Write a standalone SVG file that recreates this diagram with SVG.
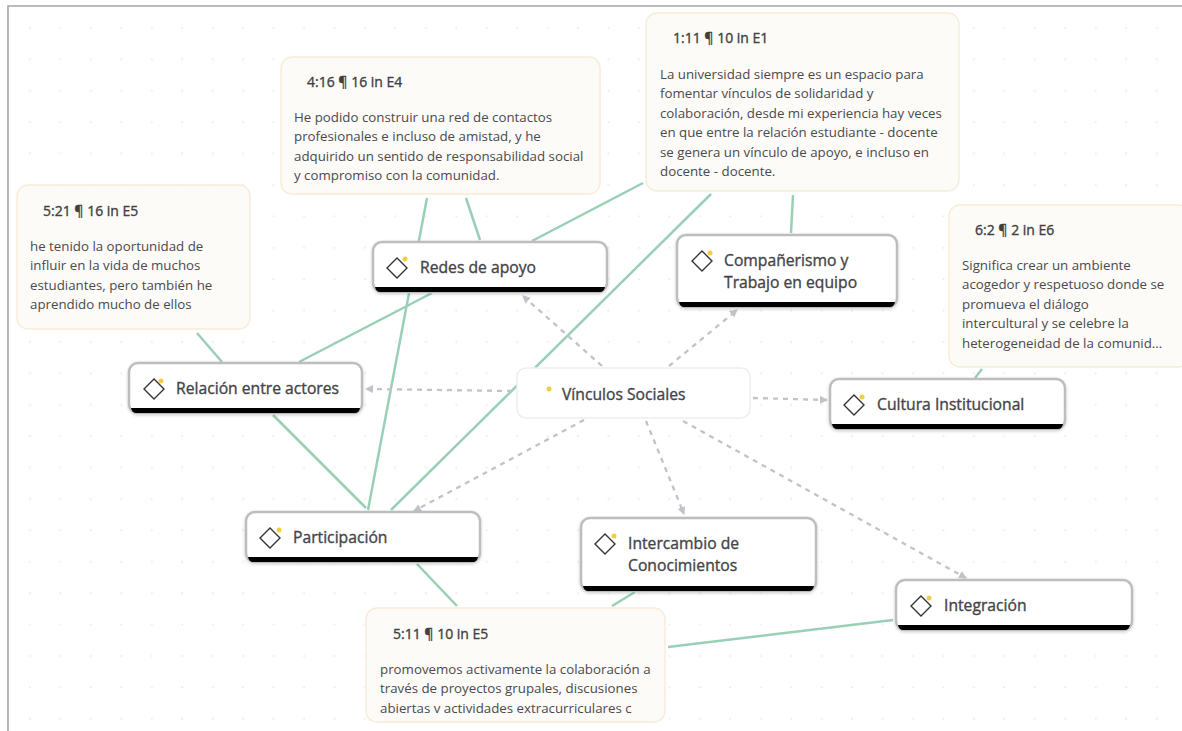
<svg xmlns="http://www.w3.org/2000/svg" width="1182" height="731" viewBox="0 0 1182 731">
<style>
text{font-family:"Open Sans","Noto Sans","Liberation Sans",sans-serif}
.g{stroke:#99d0b5;stroke-width:2.5;fill:none}
.d{stroke:#c2c2ca;stroke-width:2.3;stroke-dasharray:5 5;fill:none;marker-end:url(#a)}
.n{fill:#fff;stroke:#bdbdbd;stroke-width:2.5}
.bar{fill:#000}
.dia{fill:#fff;stroke:#333;stroke-width:1.4}
.y{fill:#f7cc45}
.t{font-size:15.7px;fill:#444448;stroke:#444448;stroke-width:.35}
.q{fill:#fdfbf8;stroke:#f8ecd9;stroke-width:1.4}
.h{font-size:14px;fill:#3f3f43;stroke:#3f3f43;stroke-width:.35}
.b{font-size:13.3px;fill:#4a4a4e}
</style>
<defs>
<pattern id="dots" x="15" y="13" width="30.45" height="31.4" patternUnits="userSpaceOnUse"><circle cx="15" cy="15" r="1.1" fill="#ebebeb"/></pattern>
<marker id="a" markerWidth="10" markerHeight="10" refX="7" refY="4" orient="auto" markerUnits="userSpaceOnUse"><path d="M0 0L8 4L0 8Z" fill="#c2c2ca"/></marker>
<filter id="s" x="-5%" y="-10%" width="110%" height="125%"><feDropShadow dx="0" dy="1" stdDeviation="1.5" flood-color="#000" flood-opacity="0.2"/></filter>
</defs>
<rect width="1182" height="731" fill="#fff"/>
<rect x="9" y="7" width="1173" height="724" fill="url(#dots)"/>
<path d="M1182 6H8V731" fill="none" stroke="#a9a5a5" stroke-width="1.6"/>
<g id="connectors">
<path class="g" d="M197 333L222 362"/>
<path class="g" d="M299 362L432 293"/>
<path class="g" d="M273 415L366 508"/>
<path class="g" d="M368 510L427 198"/>
<path class="g" d="M466 198L480 240"/>
<path class="g" d="M532 241L643 183"/>
<path class="g" d="M391 510L711 194"/>
<path class="g" d="M793 195L791 233"/>
<path class="g" d="M982 369L975 378"/>
<path class="g" d="M417 564L457 606"/>
<path class="g" d="M635 592L612 606"/>
<path class="g" d="M668 647L893 620"/>
<path class="d" d="M602 366L523 296"/>
<path class="d" d="M669 366L737 310"/>
<path class="d" d="M512 391L366 389"/>
<path class="d" d="M753 398L827 400"/>
<path class="d" d="M584 420L414 511"/>
<path class="d" d="M646 421L684 514"/>
<path class="d" d="M683 421L966 578"/>
</g>
<g id="q416"><rect class="q" x="281" y="57" width="319" height="137" rx="11"/><text class="h" x="307" y="87">4:16 ¶ 16 in E4</text><text class="b"><tspan x="294" y="122">He podido construir una red de contactos</tspan><tspan x="294" y="141">profesionales e incluso de amistad, y he</tspan><tspan x="294" y="161">adquirido un sentido de responsabilidad social</tspan><tspan x="294" y="180">y compromiso con la comunidad.</tspan></text></g>
<g id="q111"><rect class="q" x="646" y="13" width="313" height="178" rx="11"/><text class="h" x="673" y="43">1:11 ¶ 10 in E1</text><text class="b"><tspan x="660" y="79">La universidad siempre es un espacio para</tspan><tspan x="660" y="98">fomentar vínculos de solidaridad y</tspan><tspan x="660" y="118">colaboración, desde mi experiencia hay veces</tspan><tspan x="660" y="137">en que entre la relación estudiante - docente</tspan><tspan x="660" y="157">se genera un vínculo de apoyo, e incluso en</tspan><tspan x="660" y="176">docente - docente.</tspan></text></g>
<g id="q521"><rect class="q" x="17" y="185" width="233" height="144" rx="11"/><text class="h" x="43" y="216">5:21 ¶ 16 in E5</text><text class="b"><tspan x="30" y="251">he tenido la oportunidad de</tspan><tspan x="30" y="270">influir en la vida de muchos</tspan><tspan x="30" y="290">estudiantes, pero también he</tspan><tspan x="30" y="309">aprendido mucho de ellos</tspan></text></g>
<g id="q62"><rect class="q" x="949" y="205" width="240" height="162" rx="11"/><text class="h" x="975" y="235">6:2 ¶ 2 in E6</text><text class="b"><tspan x="962" y="270">Significa crear un ambiente</tspan><tspan x="962" y="289">acogedor y respetuoso donde se</tspan><tspan x="962" y="309">promueva el diálogo</tspan><tspan x="962" y="328">intercultural y se celebre la</tspan><tspan x="962" y="348">heterogeneidad de la comunid...</tspan></text></g>
<g id="q511"><rect class="q" x="366" y="608" width="299" height="114" rx="11"/><text class="h" x="393" y="639">5:11 ¶ 10 in E5</text><text class="b"><tspan x="380" y="674">promovemos activamente la colaboración a</tspan><tspan x="380" y="693">través de proyectos grupales, discusiones</tspan><tspan x="380" y="713">abiertas v actividades extracurriculares c</tspan></text></g>
<g id="redes"><rect class="n" x="373" y="242" width="234" height="50" rx="9" filter="url(#s)"/><path class="bar" d="M375 287H605Q604 292 600 292H380Q376 292 375 287Z"/><path class="dia" d="M397 258L407 268L397 278L387 268Z"/><circle class="y" cx="405" cy="259" r="2.5"/><text class="t" x="420" y="273">Redes de apoyo</text></g>
<g id="comp"><rect class="n" x="677" y="235" width="220" height="72" rx="9" filter="url(#s)"/><path class="bar" d="M679 302H895Q894 307 890 307H684Q680 307 679 302Z"/><path class="dia" d="M702 251L712 261L702 271L692 261Z"/><circle class="y" cx="710" cy="253" r="2.5"/><text class="t"><tspan x="724" y="266">Compañerismo y</tspan><tspan x="724" y="288">Trabajo en equipo</tspan></text></g>
<g id="relacion"><rect class="n" x="129" y="363" width="233" height="50" rx="9" filter="url(#s)"/><path class="bar" d="M131 408H360Q359 413 355 413H136Q132 413 131 408Z"/><path class="dia" d="M154 379L164 389L154 399L144 389Z"/><circle class="y" cx="161" cy="381" r="2.5"/><text class="t" x="176" y="394">Relación entre actores</text></g>
<g id="vinculos"><rect x="517" y="368" width="233" height="50" rx="9" fill="#fff" stroke="#eeeeee" stroke-width="1.5"/><circle class="y" cx="549" cy="389" r="2.5"/><text class="t" x="562" y="400">Vínculos Sociales</text></g>
<g id="cultura"><rect class="n" x="830" y="379" width="235" height="50" rx="9" filter="url(#s)"/><path class="bar" d="M832 424H1063Q1062 429 1058 429H837Q833 429 832 424Z"/><path class="dia" d="M854 395L864 405L854 415L844 405Z"/><circle class="y" cx="862" cy="397" r="2.5"/><text class="t" x="877" y="410">Cultura Institucional</text></g>
<g id="participacion"><rect class="n" x="246" y="512" width="234" height="50" rx="9" filter="url(#s)"/><path class="bar" d="M248 557H478Q477 562 473 562H253Q249 562 248 557Z"/><path class="dia" d="M270 528L280 538L270 548L260 538Z"/><circle class="y" cx="279" cy="530" r="2.5"/><text class="t" x="293" y="543">Participación</text></g>
<g id="intercambio"><rect class="n" x="581" y="518" width="235" height="73" rx="9" filter="url(#s)"/><path class="bar" d="M583 586H814Q813 591 809 591H588Q584 591 583 586Z"/><path class="dia" d="M605 534L615 544L605 554L595 544Z"/><circle class="y" cx="614" cy="536" r="2.5"/><text class="t"><tspan x="628" y="549">Intercambio de</tspan><tspan x="628" y="571">Conocimientos</tspan></text></g>
<g id="integracion"><rect class="n" x="896" y="580" width="236" height="50" rx="9" filter="url(#s)"/><path class="bar" d="M898 625H1130Q1129 630 1125 630H903Q899 630 898 625Z"/><path class="dia" d="M921 596L931 606L921 616L911 606Z"/><circle class="y" cx="929" cy="598" r="2.5"/><text class="t" x="944" y="611">Integración</text></g>
</svg>
